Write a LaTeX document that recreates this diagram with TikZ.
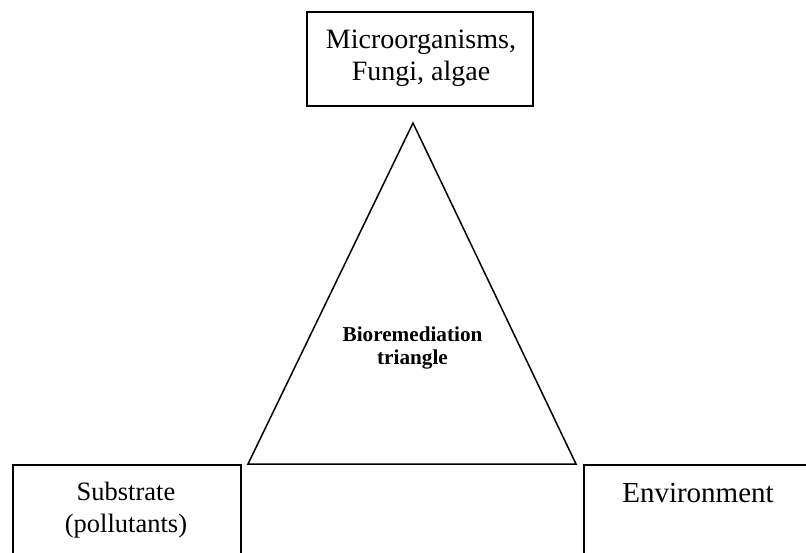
\documentclass[tikz,border=0pt]{standalone}
\usepackage{fontspec}
\setmainfont{Liberation Serif}
\begin{document}
\begin{tikzpicture}[x=1pt,y=-1pt,
  box/.style={draw, line width=1.6pt, rectangle, inner sep=0pt},
  lbl/.style={align=center, inner sep=0pt, font=\fontsize{26.5}{32}\selectfont},
  toplbl/.style={align=center, inner sep=0pt, font=\fontsize{28}{32}\selectfont},
  envlbl/.style={inner sep=0pt, font=\fontsize{29}{34}\selectfont},
  tri/.style={draw, line width=1.5pt, line join=miter},
  trilbl/.style={align=center, inner sep=0pt, font=\bfseries\fontsize{21.2}{23}\selectfont}]
\useasboundingbox (0,0) rectangle (806,553);
% boxes
\node[box, minimum width=226pt, minimum height=94pt] (micro) at (420,59) {};
\node[box, minimum width=228pt, minimum height=90pt] (subs) at (127,510) {};
\node[box, minimum width=228pt, minimum height=90pt] (env) at (698,510) {};
% texts
\node[toplbl] (microtxt) at (421,58) {Microorganisms,\\Fungi, algae};
\node[lbl] (substxt) at (126,510) {Substrate\\(pollutants)};
\node[envlbl] (envtxt) at (698,493) {Environment};
% triangle
\coordinate (apex) at (413,123);
\coordinate (bl) at (248,464);
\coordinate (br) at (576,464);
\draw[tri] (apex) -- (bl) -- (br) -- cycle;
\node[trilbl] (tritxt) at (412.5,348) {Bioremediation\\triangle};
\end{tikzpicture}
\end{document}
